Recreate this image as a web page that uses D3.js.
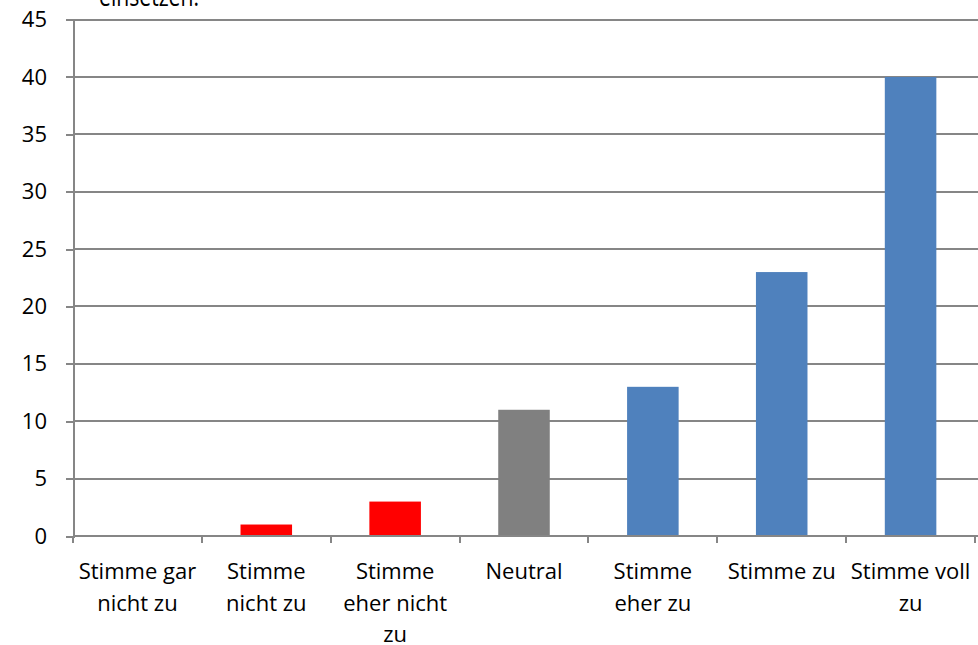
<!DOCTYPE html>
<html lang="de">
<head>
<meta charset="UTF-8"/>
<title>Stimme</title>
<script src="https://d3js.org/d3.v7.min.js"></script>
<style>
  body { margin: 0; background: #fff; }
  text { font-family: "Open Sans", sans-serif; fill: #000; }
  .axis path, .axis line { stroke: #868686; shape-rendering: crispEdges; }
  .grid line { stroke: #868686; shape-rendering: crispEdges; }
</style>
</head>
<body>
<svg id="chart" width="978" height="645"></svg>
<script>
// data
var categories = ["Stimme gar\nnicht zu", "Stimme\nnicht zu", "Stimme\neher nicht\nzu", "Neutral",
                  "Stimme\neher zu", "Stimme zu", "Stimme voll\nzu"];
var values = [0, 1, 3, 11, 13, 23, 40];
var barColors = ["#FF0000", "#FF0000", "#FF0000", "#808080", "#4F81BD", "#4F81BD", "#4F81BD"];
var yTicks = [0, 5, 10, 15, 20, 25, 30, 35, 40, 45];

var plotLeft = 73, plotRight = 975, plotTop = 19.6, plotBottom = 536;

var svg = d3.select("#chart");

var x = d3.scaleBand()
    .domain(categories)
    .range([plotLeft, plotRight])
    .paddingInner(0.6)
    .paddingOuter(0.3);

var y = d3.scaleLinear()
    .domain([0, 45])
    .range([plotBottom, plotTop]);

// cut-off title at the very top (only its lower edge shows)
svg.append("text")
    .attr("x", 99)
    .attr("y", 6)
    .attr("textLength", 100)
    .attr("lengthAdjust", "spacingAndGlyphs")
    .style("font-size", "28px")
    .text("einsetzen:");

// gridlines
svg.append("g")
    .attr("class", "grid")
  .selectAll("line")
  .data(yTicks.filter(function(d) { return d > 0; }))
  .enter()
  .append("line")
    .attr("x1", plotLeft)
    .attr("x2", 978)
    .attr("y1", function(d) { return Math.round(y(d)); })
    .attr("y2", function(d) { return Math.round(y(d)); })
    .attr("stroke-width", 2);

// bars
svg.append("g")
  .selectAll("rect")
  .data(values)
  .enter()
  .append("rect")
    .attr("x", function(d, i) { return x(categories[i]); })
    .attr("width", x.bandwidth())
    .attr("y", function(d) { return y(d); })
    .attr("height", function(d) { return plotBottom - y(d); })
    .attr("fill", function(d, i) { return barColors[i]; });

// y axis
var yAxis = svg.append("g")
    .attr("class", "axis")
    .attr("transform", "translate(" + plotLeft + ",0)")
    .call(d3.axisLeft(y).tickValues(yTicks).tickSize(7).tickPadding(19));
yAxis.selectAll("path, line").attr("stroke-width", 2);
yAxis.selectAll("text").style("font-size", "22px").style("font-family", "Open Sans");

// x axis: ticks at band boundaries
var xAxis = svg.append("g")
    .attr("class", "axis")
    .attr("transform", "translate(0," + plotBottom + ")");
xAxis.append("line")
    .attr("x1", plotLeft).attr("x2", 978)
    .attr("stroke-width", 2);
xAxis.selectAll(".bound")
  .data(d3.range(categories.length + 1))
  .enter()
  .append("line")
    .attr("class", "bound")
    .attr("x1", function(i) { return plotLeft + i * x.step(); })
    .attr("x2", function(i) { return plotLeft + i * x.step(); })
    .attr("y1", 0).attr("y2", 7)
    .attr("stroke-width", 2);

var labels = xAxis.selectAll(".lab")
  .data(categories)
  .enter()
  .append("text")
    .attr("class", "lab")
    .attr("text-anchor", "middle")
    .style("font-size", "22px")
    .attr("transform", function(d) { return "translate(" + (x(d) + x.bandwidth() / 2) + ",0)"; });
labels.selectAll("tspan")
  .data(function(d) { return d.split("\n"); })
  .enter()
  .append("tspan")
    .attr("x", 0)
    .attr("y", function(d, i) { return 43 + i * 31.5; })
    .text(function(d) { return d; });
</script>
</body>
</html>
